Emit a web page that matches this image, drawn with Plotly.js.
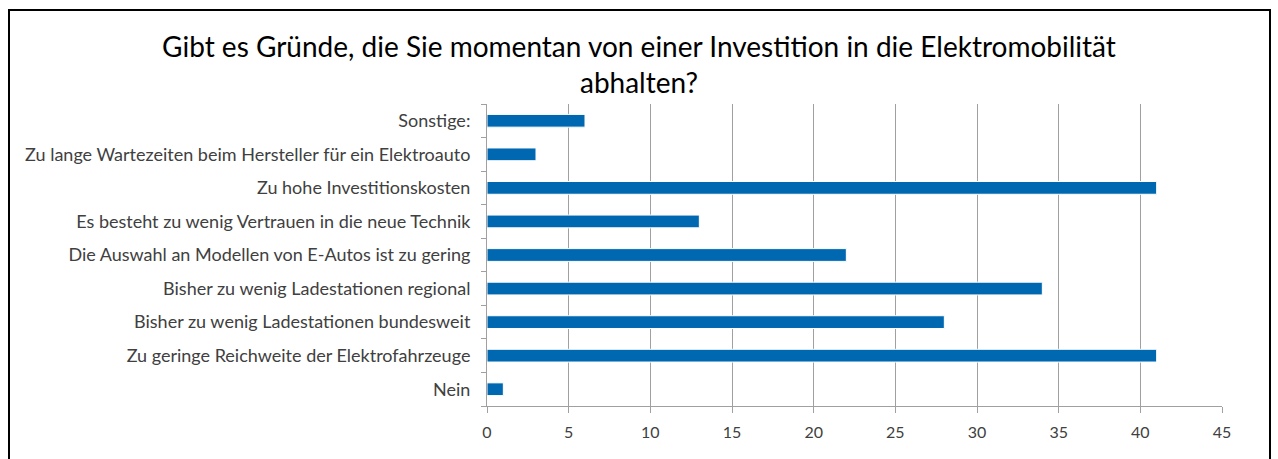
<!DOCTYPE html>
<html>
<head>
<meta charset="utf-8">
<script src="https://cdn.plot.ly/plotly-3.0.1.min.js"></script>
<style>
html,body{margin:0;padding:0;background:#fff;}
#chart{width:1278px;height:459px;}
</style>
</head>
<body>
<div id="chart"></div>
<script>
const categories = [
  "Nein",
  "Zu geringe Reichweite der Elektrofahrzeuge",
  "Bisher zu wenig Ladestationen bundesweit",
  "Bisher zu wenig Ladestationen regional",
  "Die Auswahl an Modellen von E-Autos ist zu gering",
  "Es besteht zu wenig Vertrauen in die neue Technik",
  "Zu hohe Investitionskosten",
  "Zu lange Wartezeiten beim Hersteller für ein Elektroauto",
  "Sonstige:"
];
const values = [1, 41, 28, 34, 22, 13, 41, 3, 6];
const xTicks = [0, 5, 10, 15, 20, 25, 30, 35, 40, 45];
const titleText = "Gibt es Gründe, die Sie momentan von einer Investition in die Elektromobilität<br>abhalten?";

const W = 1278, H = 459;
const m = {l: 487, r: 56, t: 104, b: 53};
const pw = W - m.l - m.r, ph = H - m.t - m.b;
const px = x => (x - m.l) / pw;
const py = y => (H - m.b - y) / ph;

const trace = {
  type: 'bar',
  orientation: 'h',
  x: values,
  y: categories,
  marker: {color: '#0068B0', line: {color: '#ffffff', width: 1}},
  hoverinfo: 'x+y'
};

const layout = {
  width: W, height: H,
  margin: m,
  paper_bgcolor: '#ffffff',
  plot_bgcolor: '#ffffff',
  showlegend: false,
  bargap: 0.62,
  font: {family: 'Lato, sans-serif', color: '#404040', size: 16},
  title: {
    text: titleText,
    font: {family: 'Lato, sans-serif', size: 28, color: '#000000'},
    x: 0.5, xref: 'container', xanchor: 'center',
    y: 1 - 57 / H, yref: 'container', yanchor: 'top'
  },
  xaxis: {
    range: [0, 45],
    tickvals: xTicks,
    ticktext: xTicks.map(String),
    showgrid: true, gridcolor: '#a0a0a0', gridwidth: 1,
    zeroline: false,
    showline: true, linecolor: '#a0a0a0', linewidth: 1,
    ticks: 'outside', ticklen: 6, tickcolor: '#a0a0a0',
    tickfont: {family: 'Lato, sans-serif', size: 16, color: '#404040'},
    ticklabelstandoff: 6,
    fixedrange: true
  },
  yaxis: {
    type: 'category',
    categoryorder: 'array', categoryarray: categories,
    showgrid: false, zeroline: false,
    showline: true, linecolor: '#a0a0a0', linewidth: 1,
    ticks: 'outside', ticklen: 5, tickcolor: '#a0a0a0', tickson: 'boundaries',
    tickfont: {family: 'Lato, sans-serif', size: 18, color: '#404040'},
    ticklabelstandoff: 12,
    fixedrange: true
  },
  shapes: [{
    type: 'rect', xref: 'paper', yref: 'paper',
    x0: px(9), x1: px(1270), y0: py(470), y1: py(10),
    line: {color: '#000000', width: 2}, fillcolor: 'rgba(0,0,0,0)', layer: 'above'
  }]
};

Plotly.newPlot('chart', [trace], layout, {displayModeBar: false, staticPlot: true});
</script>
</body>
</html>
